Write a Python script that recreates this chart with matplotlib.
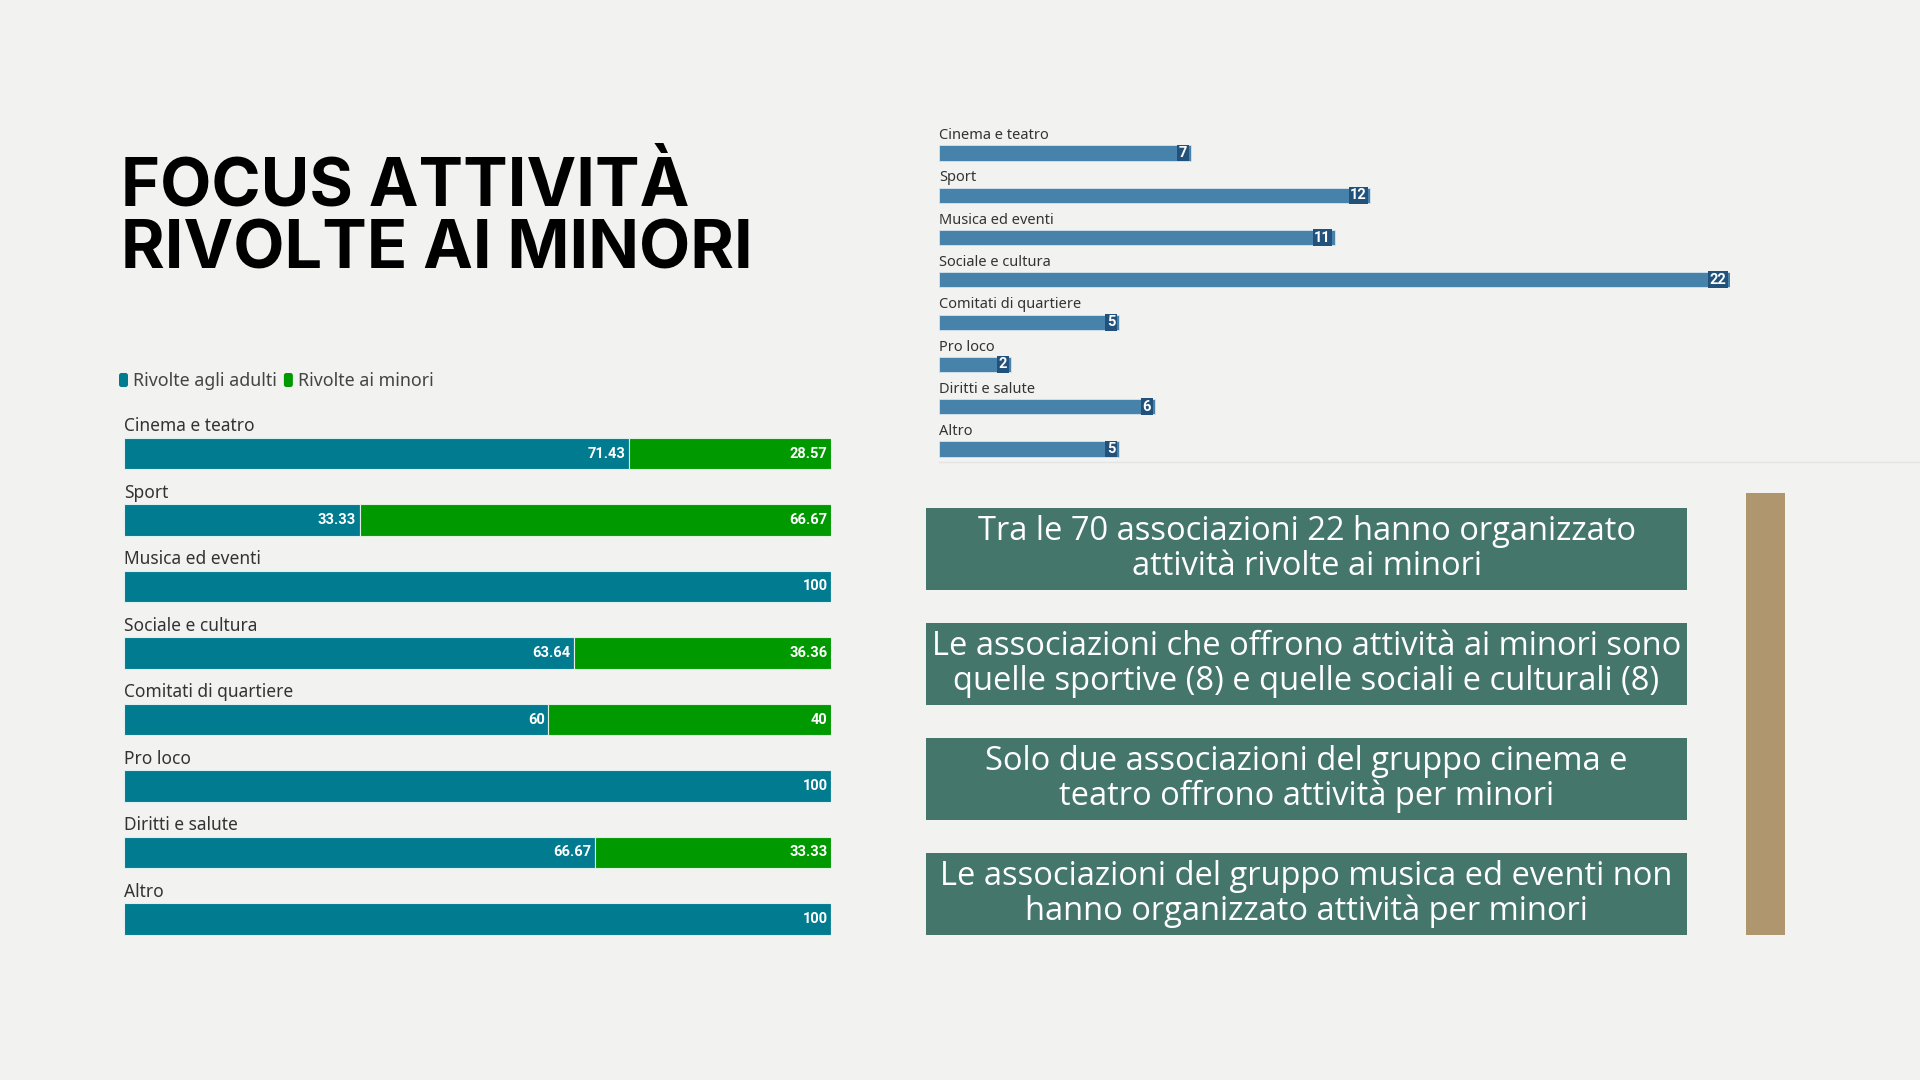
import matplotlib
matplotlib.use("Agg")
import matplotlib.pyplot as plt
from matplotlib.patches import Rectangle, FancyBboxPatch
import numpy as np

# data
categories = ["Cinema e teatro", "Sport", "Musica ed eventi", "Sociale e cultura",
              "Comitati di quartiere", "Pro loco", "Diritti e salute", "Altro"]
adulti = [71.43, 33.33, 100, 63.64, 60, 100, 66.67, 100]
minori = [28.57, 66.67, 0, 36.36, 40, 0, 33.33, 0]
totali = [7, 12, 11, 22, 5, 2, 6, 5]

legend_labels = ["Rivolte agli adulti", "Rivolte ai minori"]
title_lines = ["FOCUS ATTIVITÀ", "RIVOLTE AI MINORI"]
notes = [
    "Tra le 70 associazioni 22 hanno organizzato\nattività rivolte ai minori",
    "Le associazioni che offrono attività ai minori sono\nquelle sportive (8) e quelle sociali e culturali (8)",
    "Solo due associazioni del gruppo cinema e\nteatro offrono attività per minori",
    "Le associazioni del gruppo musica ed eventi non\nhanno organizzato attività per minori",
]

TEAL = "#007b8f"
GREEN = "#009a00"
STEEL = "#4682aa"
DARKBLUE = "#22527c"
BOXGREEN = "#44766c"
BEIGE = "#b0966f"
BG = "#f2f2f1"
LABEL = "#333333"

W, H = 1920, 1080
fig = plt.figure(figsize=(19.2, 10.8), dpi=100)
fig.patch.set_facecolor(BG)


def px_axes(x0, y0, x1, y1, **kw):
    # axes placed by pixel box (y from top)
    return fig.add_axes([x0 / W, 1 - y1 / H, (x1 - x0) / W, (y1 - y0) / H], **kw)


# overlay for title, boxes, decorations
deco = px_axes(0, 0, W, H)
deco.set_xlim(0, W)
deco.set_ylim(H, 0)
deco.axis("off")

deco.text(121, 188, title_lines[0], fontsize=48, fontweight="bold", family="Inter",
          color="black", va="center", ha="left")
deco.text(121, 251, title_lines[1], fontsize=48, fontweight="bold", family="Inter",
          color="black", va="center", ha="left")

# legend
lx = 119
for lab, col in zip(legend_labels, [TEAL, GREEN]):
    deco.add_patch(FancyBboxPatch((lx, 373), 9, 14, boxstyle="round,pad=0,rounding_size=2.5",
                                  fc=col, ec="none"))
    t = deco.text(lx + 14, 381, lab, fontsize=12.8, family="Noto Sans", color="#444444",
                  va="center", ha="left")
    fig.canvas.draw()
    bb = t.get_window_extent()
    lx = bb.x1 + 7

# note boxes
box_tops = [508, 623, 738, 853]
for top, txt in zip(box_tops, notes):
    deco.add_patch(Rectangle((926, top), 761, 82, fc=BOXGREEN, ec="none"))
    deco.text(926 + 761 / 2, top + 41, txt, fontsize=23.5, family="Open Sans", color="white",
              ha="center", va="center", linespacing=1.05)

deco.add_patch(Rectangle((1746, 493), 39, 442, fc=BEIGE, ec="none"))
deco.plot([939, 1920], [462, 462], color="#e4e4e4", lw=1)

# left stacked bar chart
step = 66.5
y_first = 453.5
n = len(categories)
ax = px_axes(124, y_first - step / 2, 831, y_first + (n - 0.5) * step, facecolor="none")
y = np.arange(n)
ax.barh(y, adulti, height=0.47, color=TEAL, edgecolor="#dfeff0", linewidth=0.8)
ax.barh(y, minori, left=adulti, height=0.47, color=GREEN, edgecolor="#dff0df", linewidth=0.8)
ax.set_xlim(0, 100)
ax.set_ylim(n - 0.5, -0.5)
ax.axis("off")
for i, (a, m) in enumerate(zip(adulti, minori)):
    ax.text(0, i - 0.41, categories[i], fontsize=12.5, family="Noto Sans", color=LABEL,
            ha="left", va="center")
    if a > 0:
        ax.text(a - 0.5, i, f"{a:g}", fontsize=10.5, fontweight="bold", family="Roboto",
                color="white", ha="right", va="center")
    if m > 0:
        ax.text(a + m - 0.5, i, f"{m:g}", fontsize=10.5, fontweight="bold", family="Roboto",
                color="white", ha="right", va="center")

# right bar chart
rstep = (449 - 153) / 7
ry0 = 153
ax2 = px_axes(939, ry0 - rstep / 2, 1730, ry0 + (n - 0.5) * rstep, facecolor="none")
ax2.barh(y, totali, height=0.36, color=STEEL, edgecolor="#d6e4ee", linewidth=0.6)
ax2.set_xlim(0, max(totali))
ax2.set_ylim(n - 0.5, -0.5)
ax2.axis("off")
for i, v in enumerate(totali):
    ax2.text(0, i - 0.41, categories[i], fontsize=10.5, family="Noto Sans", color=LABEL,
             ha="left", va="center")
    ax2.text(v - 0.1, i, str(v), fontsize=10.5, fontweight="bold", family="Roboto",
             color="white", ha="right", va="center",
             bbox=dict(boxstyle="square,pad=0.1", fc=DARKBLUE, ec="none"))

fig.savefig("out.png", dpi=100, facecolor=BG)
